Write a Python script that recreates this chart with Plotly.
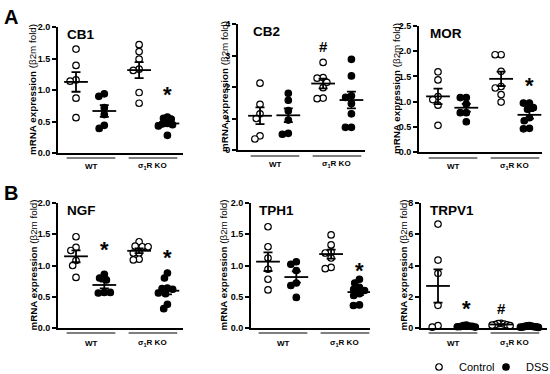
import numpy as np
import plotly.graph_objects as go

W, H = 550, 374

# ---------------- data ----------------
groups = ["WT Control", "WT DSS", "σ1R KO Control", "σ1R KO DSS"]
group_labels = ["WT", "σ<sub>1</sub>R KO"]

cb1_wt_ctrl = [1.65, 1.39, 1.16, 1.14, 0.87, 0.56]
cb1_wt_dss = [0.94, 0.90, 0.72, 0.61, 0.44, 0.39]
cb1_ko_ctrl = [1.72, 1.61, 1.49, 1.33, 1.31, 0.96, 0.79]
cb1_ko_dss = [0.57, 0.55, 0.54, 0.47, 0.46, 0.45, 0.43, 0.28]

cb2_wt_ctrl = [2.12, 1.45, 1.15, 1.00, 0.45, 0.35]
cb2_wt_dss = [1.80, 1.58, 1.25, 0.95, 0.53, 0.50]
cb2_ko_ctrl = [2.78, 2.30, 2.28, 2.15, 1.98, 1.65, 1.63]
cb2_ko_dss = [2.88, 2.35, 1.72, 1.67, 1.48, 1.15, 0.72, 0.72]

mor_wt_ctrl = [1.59, 1.43, 1.10, 1.04, 0.93, 0.53]
mor_wt_dss = [1.08, 1.08, 0.95, 0.78, 0.78, 0.60]
mor_ko_ctrl = [1.93, 1.93, 1.60, 1.30, 1.27, 1.14, 0.99]
mor_ko_dss = [0.97, 0.97, 0.88, 0.85, 0.68, 0.62, 0.47, 0.46]

ngf_wt_ctrl = [1.46, 1.29, 1.24, 1.08, 1.00, 0.81]
ngf_wt_dss = [0.86, 0.80, 0.77, 0.57, 0.56, 0.57]
ngf_ko_ctrl = [1.38, 1.31, 1.30, 1.30, 1.20, 1.20, 1.10, 1.09]
ngf_ko_dss = [0.88, 0.80, 0.64, 0.63, 0.62, 0.56, 0.55, 0.38, 0.31]

tph1_wt_ctrl = [1.62, 1.30, 1.12, 0.94, 0.78, 0.61]
tph1_wt_dss = [1.06, 1.02, 0.92, 0.72, 0.68, 0.49]
tph1_ko_ctrl = [1.49, 1.33, 1.22, 1.20, 1.12, 0.97, 0.95]
tph1_ko_dss = [0.78, 0.72, 0.65, 0.62, 0.60, 0.55, 0.52, 0.37, 0.36]

trpv1_wt_ctrl = [6.65, 4.35, 3.50, 1.45, 0.15, 0.05]
trpv1_wt_dss = [0.18, 0.15, 0.12, 0.10, 0.09, 0.08, 0.06]
trpv1_ko_ctrl = [0.30, 0.28, 0.25, 0.22, 0.20, 0.18, 0.15]
trpv1_ko_dss = [0.15, 0.13, 0.12, 0.10, 0.08, 0.07, 0.06, 0.05, 0.04]

# significance marks: (group index, y value, symbol)
cb1_sig = [(3, 0.93, "*")]
cb2_sig = [(2, 3.30, "#")]
mor_sig = [(3, 1.31, "*")]
ngf_sig = [(1, 1.25, "*"), (3, 1.13, "*")]
tph1_sig = [(3, 0.92, "*")]
trpv1_sig = [(1, 1.24, "*"), (2, 1.24, "#")]

# ---------------- layout (pixels) ----------------
POS = [0.0, 1.0, 2.23, 3.23]   # category positions
PPX = 28.3                     # px per x unit

panels = [
    dict(title="CB1", data=[cb1_wt_ctrl, cb1_wt_dss, cb1_ko_ctrl, cb1_ko_dss], sig=cb1_sig,
         ymax=2.0, dtick=0.5, fmt=".1f", left=58, right=183, top=27, bottom=153,
         first=76, tx=65, ylx=33, gl=158, glab=166),
    dict(title="CB2", data=[cb2_wt_ctrl, cb2_wt_dss, cb2_ko_ctrl, cb2_ko_dss], sig=cb2_sig,
         ymax=4.0, dtick=1, fmt="d", left=238, right=365, top=24, bottom=150,
         first=260, tx=251, ylx=224, gl=156, glab=164),
    dict(title="MOR", data=[mor_wt_ctrl, mor_wt_dss, mor_ko_ctrl, mor_ko_dss], sig=mor_sig,
         ymax=2.5, dtick=0.5, fmt=".1f", left=419, right=542, top=26, bottom=152,
         first=438, tx=428, ylx=396, gl=158, glab=166),
    dict(title="NGF", data=[ngf_wt_ctrl, ngf_wt_dss, ngf_ko_ctrl, ngf_ko_dss], sig=ngf_sig,
         ymax=2.0, dtick=0.5, fmt=".1f", left=58, right=183, top=203, bottom=328,
         first=76, tx=65, ylx=33, gl=333, glab=343),
    dict(title="TPH1", data=[tph1_wt_ctrl, tph1_wt_dss, tph1_ko_ctrl, tph1_ko_dss], sig=tph1_sig,
         ymax=2.0, dtick=0.5, fmt=".1f", left=251, right=370, top=203, bottom=328,
         first=268, tx=257, ylx=223, gl=333, glab=343),
    dict(title="TRPV1", data=[trpv1_wt_ctrl, trpv1_wt_dss, trpv1_ko_ctrl, trpv1_ko_dss], sig=trpv1_sig,
         ymax=8.0, dtick=2, fmt="d", left=421, right=547, top=203, bottom=328,
         first=438, tx=428, ylx=403, gl=333, glab=343),
]

FONT = "Liberation Sans, Arial, sans-serif"
MS = 6.5       # marker size
DCOL = 6.0     # collision diameter for swarm (px)
MAXOFF = 9.0   # maximum swarm half-width (px)


def px(x):
    return x / W


def py(y):
    return 1 - y / H


def swarm(vals, ppu_y):
    placed = []
    for v in vals:
        y = v * ppu_y
        cands = [0.0]
        for xj, yj in placed:
            dy = y - yj
            if abs(dy) < DCOL:
                dx = np.sqrt(DCOL ** 2 - dy ** 2)
                cands += [xj + dx, xj - dx]
        cands = sorted(cands, key=lambda c: (round(abs(c), 6), c))
        chosen = 0.0
        for c in cands:
            if all((c - xj) ** 2 + (y - yj) ** 2 >= DCOL ** 2 - 1e-6 for xj, yj in placed):
                chosen = c
                break
        placed.append((chosen, y))
    offs = np.array([c for c, _ in placed])
    mx = np.abs(offs).max()
    if mx > MAXOFF:
        offs = offs * MAXOFF / mx
    return list(offs / PPX)


fig = go.Figure()
annotations = []
shapes = []

for k, p in enumerate(panels):
    idx = "" if k == 0 else str(k + 1)
    xa, ya = "x" + idx, "y" + idx
    plot_h = p["bottom"] - p["top"]
    ppu_y = plot_h / p["ymax"]
    x0 = -(p["first"] - p["left"]) / PPX
    x1 = x0 + (p["right"] - p["left"]) / PPX

    for g, vals in enumerate(p["data"]):
        ctrl = g % 2 == 0
        offs = swarm(vals, ppu_y)
        xs = [POS[g] + o for o in offs]
        show = k == 0 and g < 2
        fig.add_trace(go.Scatter(
            x=xs, y=vals, mode="markers", xaxis=xa, yaxis=ya, cliponaxis=False,
            marker=dict(size=MS, color="white" if ctrl else "black",
                        line=dict(color="black", width=1.2)),
            name="Control" if ctrl else "DSS",
            legend="legend" if ctrl else "legend2",
            showlegend=show, hoverinfo="skip"))
        arr = np.array(vals)
        m = arr.mean()
        sem = arr.std(ddof=1) / np.sqrt(len(arr))
        fig.add_trace(go.Scatter(
            x=[POS[g]], y=[m], mode="markers", xaxis=xa, yaxis=ya, cliponaxis=False,
            marker=dict(size=1, color="rgba(0,0,0,0)"),
            error_y=dict(type="data", array=[sem], color="black", thickness=1.8, width=4.5),
            showlegend=False, hoverinfo="skip"))
        fig.add_trace(go.Scatter(
            x=[POS[g] - 0.42, POS[g] + 0.42], y=[m, m], mode="lines", xaxis=xa, yaxis=ya,
            line=dict(color="black", width=1.8), showlegend=False, hoverinfo="skip"))

    for g, yv, sym in p["sig"]:
        size = 22 if sym == "*" else 15
        annotations.append(dict(
            x=POS[g], y=yv, xref=xa, yref=ya, text="<b>%s</b>" % sym, showarrow=False,
            font=dict(family=FONT, size=size, color="black"),
            xanchor="center", yanchor="middle"))

    fig.layout["xaxis" + idx] = dict(
        domain=[px(p["left"]), px(p["right"])], range=[x0, x1], anchor=ya,
        showline=True, linecolor="black", linewidth=1.8, showticklabels=False,
        ticks="", showgrid=False, zeroline=False, fixedrange=True, automargin=False)
    fig.layout["yaxis" + idx] = dict(
        domain=[py(p["bottom"]), py(p["top"])], range=[0, p["ymax"]], anchor=xa,
        dtick=p["dtick"], tick0=0, tickformat=p["fmt"], ticks="outside", ticklen=4,
        tickwidth=1.5, tickcolor="black", showline=True, linecolor="black", linewidth=1.8,
        tickfont=dict(family=FONT, size=9, color="black", weight="bold"),
        showgrid=False, zeroline=False, fixedrange=True, automargin=False)

    # panel title
    annotations.append(dict(
        x=px(p["tx"]), y=py(p["top"] - 2), xref="paper", yref="paper", xanchor="left",
        yanchor="top", text="<b>%s</b>" % p["title"], showarrow=False,
        font=dict(family=FONT, size=13.5, color="black")))
    # y label
    annotations.append(dict(
        x=px(p["ylx"]), y=py((p["top"] + p["bottom"]) / 2), xref="paper", yref="paper",
        xanchor="center", yanchor="middle", textangle=-90, showarrow=False,
        text="<b>mRNA expression</b> (β2m fold)",
        font=dict(family=FONT, size=9.8, color="black")))
    # group lines and labels
    for c, lab in zip([0.53, 2.72], group_labels):
        shapes.append(dict(type="line", xref=xa, yref="paper", x0=c - 0.86, x1=c + 0.86,
                           y0=py(p["gl"]), y1=py(p["gl"]),
                           line=dict(color="#555555", width=1.4)))
        annotations.append(dict(
            x=c, y=py(p["glab"]), xref=xa, yref="paper", xanchor="center", yanchor="middle",
            text="<b>%s</b>" % lab, showarrow=False,
            font=dict(family=FONT, size=8, color="black")))

# panel letters
for letter, yy in [("A", 4), ("B", 180)]:
    annotations.append(dict(
        x=px(2), y=py(yy), xref="paper", yref="paper", xanchor="left", yanchor="top",
        text="<b>%s</b>" % letter, showarrow=False,
        font=dict(family=FONT, size=20, color="black")))

legend_style = dict(orientation="h", yanchor="middle", y=py(367), xanchor="left",
                    font=dict(family=FONT, size=11, color="black"), itemwidth=30,
                    bgcolor="rgba(0,0,0,0)")

fig.update_layout(
    width=W, height=H, margin=dict(l=0, r=0, t=0, b=0, pad=0, autoexpand=False),
    paper_bgcolor="white", plot_bgcolor="white",
    annotations=annotations, shapes=shapes,
    showlegend=True,
    legend=dict(x=px(419), **legend_style),
    legend2=dict(x=px(486), **legend_style),
)

fig.write_html(
    "out.html",
    config={"displayModeBar": False},
    post_script="document.body.style.margin='0px';document.body.style.padding='0px';"
                "document.body.style.overflow='hidden';",
)
